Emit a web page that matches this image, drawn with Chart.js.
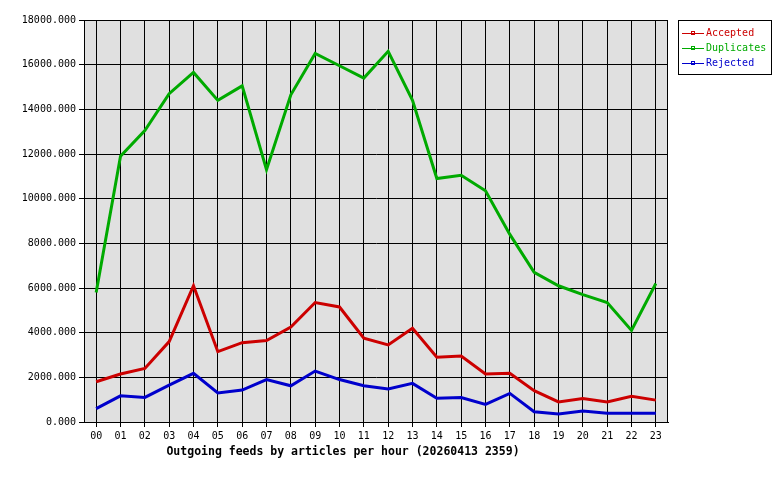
<!DOCTYPE html>
<html>
<head>
<meta charset="utf-8">
<script src="https://cdn.jsdelivr.net/npm/chart.js@4/dist/chart.umd.min.js"></script>
<style>
  body { margin: 0; background: #ffffff; }
  #wrap { width: 780px; height: 480px; }
</style>
</head>
<body>
<div id="wrap"><canvas id="feedChart" width="780" height="480"></canvas></div>
<script>
// hours of the day
var hours = ["00","01","02","03","04","05","06","07","08","09","10","11",
             "12","13","14","15","16","17","18","19","20","21","22","23"];

// articles per hour
var accepted   = [1800, 2150, 2400, 3600, 6100, 3150, 3550, 3650, 4250, 5350, 5150, 3750,
                  3450, 4200, 2900, 2950, 2150, 2180, 1400, 900, 1050, 900, 1150, 980];
var duplicates = [5800, 11900, 13050, 14700, 15650, 14400, 15050, 11300, 14650, 16500, 15950, 15400,
                  16600, 14400, 10900, 11050, 10350, 8400, 6700, 6100, 5700, 5350, 4100, 6200];
var rejected   = [600, 1170, 1100, 1650, 2180, 1300, 1430, 1900, 1620, 2280, 1900, 1620,
                  1480, 1730, 1060, 1100, 790, 1280, 460, 360, 490, 390, 390, 390];

var seriesNames = ["Accepted", "Duplicates", "Rejected"];
var seriesColors = ["#cc0000", "#00aa00", "#0000cc"];
var xTitle = "Outgoing feeds by articles per hour (20260413 2359)";

var mono = "'DejaVu Sans Mono', 'Liberation Mono', monospace";

// gray plot background + frame
var plotBox = {
  id: 'plotBox',
  beforeDraw: function(chart) {
    var a = chart.chartArea, c = chart.ctx;
    c.save();
    c.fillStyle = '#e0e0e0';
    c.fillRect(a.left, a.top, a.right - a.left, a.bottom - a.top);
    c.restore();
  },
  afterDatasetsDraw: function(chart) {
    var a = chart.chartArea, c = chart.ctx;
    c.save();
    c.strokeStyle = '#000';
    c.lineWidth = 1;
    c.strokeRect(a.left + 0.5, a.top + 0.5, a.right - a.left - 1, a.bottom - a.top);
    c.restore();
  }
};

// legend box at right and the axis caption
var sideLegend = {
  id: 'sideLegend',
  afterDraw: function(chart) {
    var c = chart.ctx;
    c.save();
    c.fillStyle = '#fff';
    c.fillRect(678, 20, 93, 54);
    c.strokeStyle = '#000';
    c.lineWidth = 1;
    c.strokeRect(678.5, 20.5, 93, 54);
    c.font = '10px ' + mono;
    c.textBaseline = 'middle';
    chart.data.datasets.forEach(function(ds, i) {
      var y = 33 + i * 15;
      c.strokeStyle = ds.borderColor;
      c.beginPath();
      c.moveTo(682, y + 0.5);
      c.lineTo(704, y + 0.5);
      c.stroke();
      c.strokeRect(691.5, y - 1.5, 3, 3);
      c.fillStyle = ds.borderColor;
      c.fillText(ds.label, 706, y);
    });
    c.fillStyle = '#000';
    c.font = 'bold 11.5px ' + mono;
    c.textAlign = 'center';
    c.fillText(xTitle, 343, 452);
    c.restore();
  }
};

var ctx = document.getElementById("feedChart");
var feedChart = new Chart(ctx, {
  type: 'line',
  data: {
    labels: hours,
    datasets: [
      { label: seriesNames[0], data: accepted,   borderColor: seriesColors[0] },
      { label: seriesNames[1], data: duplicates, borderColor: seriesColors[1] },
      { label: seriesNames[2], data: rejected,   borderColor: seriesColors[2] }
    ].map(function(d) {
      d.borderWidth = 3;
      d.pointRadius = 0;
      d.tension = 0;
      d.fill = false;
      return d;
    })
  },
  options: {
    responsive: false,
    animation: false,
    layout: { padding: { left: 0, top: 20, right: 112, bottom: 38 } },
    plugins: {
      legend: { display: false },
      tooltip: { enabled: false }
    },
    scales: {
      x: {
        offset: true,
        grid: { offset: false, color: '#000', lineWidth: 1, tickLength: 5, drawOnChartArea: true },
        border: { display: true, color: '#000' },
        ticks: { color: '#000', font: { family: mono, size: 10 }, padding: 3, maxRotation: 0, autoSkip: false },
        afterFit: function(s) { s.height = 20; }
      },
      y: {
        min: 0,
        max: 18000,
        grid: { color: '#000', lineWidth: 1, tickLength: 5 },
        border: { display: true, color: '#000' },
        ticks: {
          stepSize: 2000,
          color: '#000',
          font: { family: mono, size: 10 },
          padding: 3,
          callback: function(v) { return v.toFixed(3); }
        },
        afterFit: function(s) { s.width = 84; }
      }
    }
  },
  plugins: [plotBox, sideLegend]
});
</script>
</body>
</html>
